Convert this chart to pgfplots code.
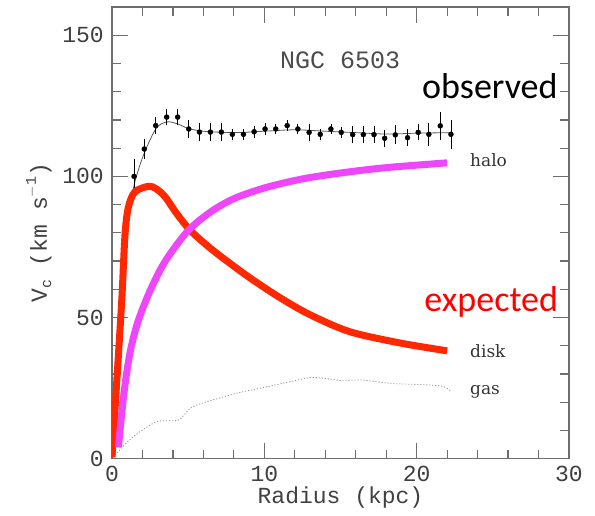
\documentclass[border=0pt]{standalone}
\usepackage{pgfplots}
\pgfplotsset{compat=1.18}
\usepackage{fontspec}
\setmainfont{Liberation Mono}
\newfontfamily\labfont{DejaVu Serif}
\newfontfamily\calfont{Carlito}
\definecolor{diskred}{RGB}{255,40,0}
\definecolor{halomag}{RGB}{238,70,250}
\definecolor{axgray}{RGB}{110,110,110}
\begin{document}
\begin{tikzpicture}
\useasboundingbox (-112pt,-56.3pt) rectangle (483pt,458.7pt);
\begin{axis}[
  at={(0,0)}, anchor=south west,
  scale only axis, width=457pt, height=451.7pt,
  xmin=0, xmax=30, ymin=0, ymax=160,
  xtick={0,10,20,30}, ytick={0,50,100,150},
  minor x tick num=4, minor y tick num=4,
  major tick length=16pt, minor tick length=9pt,
  tick align=inside,
  axis line style={axgray, line width=1.3pt},
  tick style={axgray, line width=1.2pt},
  tick label style={font=\fontsize{23}{23}\selectfont, text=black!75},
  /pgf/number format/assume math mode=true,
  xticklabel style={anchor=north, inner sep=0pt, yshift=-7pt},
  yticklabel style={anchor=east, inner sep=0pt, xshift=-8pt},
  label style={font=\fontsize{23}{23}\selectfont, text=black!75},
  xlabel={Radius (kpc)},
  xlabel style={at={(axis description cs:0.5,-0.087)}, anchor=center},
  ylabel={V\raisebox{-0.35ex}{\fontsize{15}{15}\selectfont c} (km s\raisebox{0.9ex}{\fontsize{15}{15}\selectfont $-$1})},
  ylabel style={at={(axis description cs:-0.16,0.5)}, anchor=center},
]
% fitted total curve
\addplot[gray!70!black, line width=0.8pt, smooth] coordinates {
(0,0) (0.5,50) (0.8,75) (1.2,89) (1.5,98) (2.1,108) (2.9,117) (3.6,119.3)
(4.3,118.6) (5,117) (6,116) (8,115.5) (10,116) (12,116.5) (14,116)
(16,115.5) (18,115) (20,115.3) (22.2,115.5)};
% observed data
\addplot[only marks, mark=*, mark size=2.5pt, black,
  error bars/.cd, y dir=both, y explicit,
  error bar style={black, line width=0.8pt},
  error mark options={black, line width=0.8pt, mark size=3pt}]
 coordinates {
(1.45,100) +- (0,5)
(2.12,109.7) +- (0,2.4)
(2.87,118) +- (0,2)
(3.59,121) +- (0,1.9)
(4.31,121) +- (0,1.9)
(5.04,116.8) +- (0,2.2)
(5.74,115.7) +- (0,2.2)
(6.46,115.7) +- (0,2.2)
(7.18,115.7) +- (0,2.2)
(7.9,114.9) +- (0,0.8)
(8.63,114.9) +- (0,0.8)
(9.33,115.8) +- (0,1)
(10.05,116.8) +- (0,1)
(10.75,116.8) +- (0,0.8)
(11.5,118) +- (0,0.8)
(12.2,116.8) +- (0,0.8)
(12.94,115.6) +- (0,2)
(13.67,114.9) +- (0,0.8)
(14.37,116.8) +- (0,0.8)
(15.05,115.6) +- (0,0.8)
(15.8,114.8) +- (0,2)
(16.5,114.8) +- (0,2)
(17.2,114.8) +- (0,2)
(17.9,113.5) +- (0,2)
(18.6,114.7) +- (0,2.3)
(19.4,113.7) +- (0,2)
(20.1,115.6) +- (0,1.8)
(20.8,114.9) +- (0,3)
(21.55,117.9) +- (0,4)
(22.25,114.9) +- (0,4)
};
% gas
\addplot[gray!80, line width=0.8pt, dash pattern=on 1.2pt off 1.8pt, smooth] coordinates {
(0.2,1.3) (1.4,7.8) (2.94,13.1) (4.36,13.7) (5.12,17.8) (6,19.8) (8.2,23.2)
(10.2,25.5) (11.7,27.3) (13,28.7) (13.9,28.5) (15.2,27.6) (16.3,27.9)
(18.3,26.7) (20.9,26.1) (21.8,25.5) (22.2,24.1)};
% original dashed components (mostly hidden)
\addplot[gray, line width=0.8pt, dashed, smooth] coordinates {
(0.3,15) (0.64,50) (0.9,78) (1.2,88.5) (1.7,95) (2.5,96.8) (3.5,93.3) (4.25,87.5) (5.12,82)
(7.3,72) (9.07,65) (11.04,58) (13,51.5) (15.6,45.5) (18.9,41.3) (22,38.6)};
\addplot[gray, line width=0.8pt, dashed, smooth] coordinates {
(0.6,15) (1.2,38.5) (2.5,60) (3.5,70.6) (5,81.5) (6.5,88.2) (8,92.8) (10,96.6)
(12.5,99.8) (15,101.9) (18,103.8) (22,105.5)};
% disk (expected)
\addplot[diskred, line width=7pt, smooth] coordinates {
(0,0.5) (0.32,28) (0.64,56) (0.85,79) (1.07,89) (1.5,94.5) (2.4,96.5)
(2.9,95.6) (3.48,92.8) (4.25,86.8) (5.12,81) (6.2,75.7) (7.3,71) (9.07,64)
(11.04,57) (13,51) (15.6,45) (18.9,41) (22,38.2)};
% halo
\addplot[halomag, line width=7pt, smooth] coordinates {
(0.42,4) (0.6,14) (0.85,26) (1.2,38) (1.7,48.5) (2.5,59.5) (3.5,70) (5,80.8)
(6.5,87.5) (8,92.1) (10,95.9) (12.5,99.1) (15,101.2) (18,103.1) (22,104.8)};
% annotations
\node[anchor=center, font=\fontsize{25}{25}\selectfont, text=black!70]
  at (axis cs:14.97,141.2) {NGC 6503};
\node[anchor=base west, inner sep=0pt, font=\calfont\fontsize{36}{36}\selectfont, text=black]
  at (axis cs:20.35,127.7) {observed};
\node[anchor=base west, inner sep=0pt, font=\calfont\fontsize{36}{36}\selectfont, text=red]
  at (axis cs:20.5,52.1) {expected};
\node[anchor=base west, inner sep=0pt, font=\labfont\fontsize{17}{17}\selectfont, text=black!80]
  at (axis cs:23.5,103.4) {halo};
\node[anchor=base west, inner sep=0pt, font=\labfont\fontsize{17}{17}\selectfont, text=black!80]
  at (axis cs:23.5,35.7) {disk};
\node[anchor=base west, inner sep=0pt, font=\labfont\fontsize{17}{17}\selectfont, text=black!80]
  at (axis cs:23.5,22.6) {gas};
\end{axis}
\end{tikzpicture}
\end{document}
